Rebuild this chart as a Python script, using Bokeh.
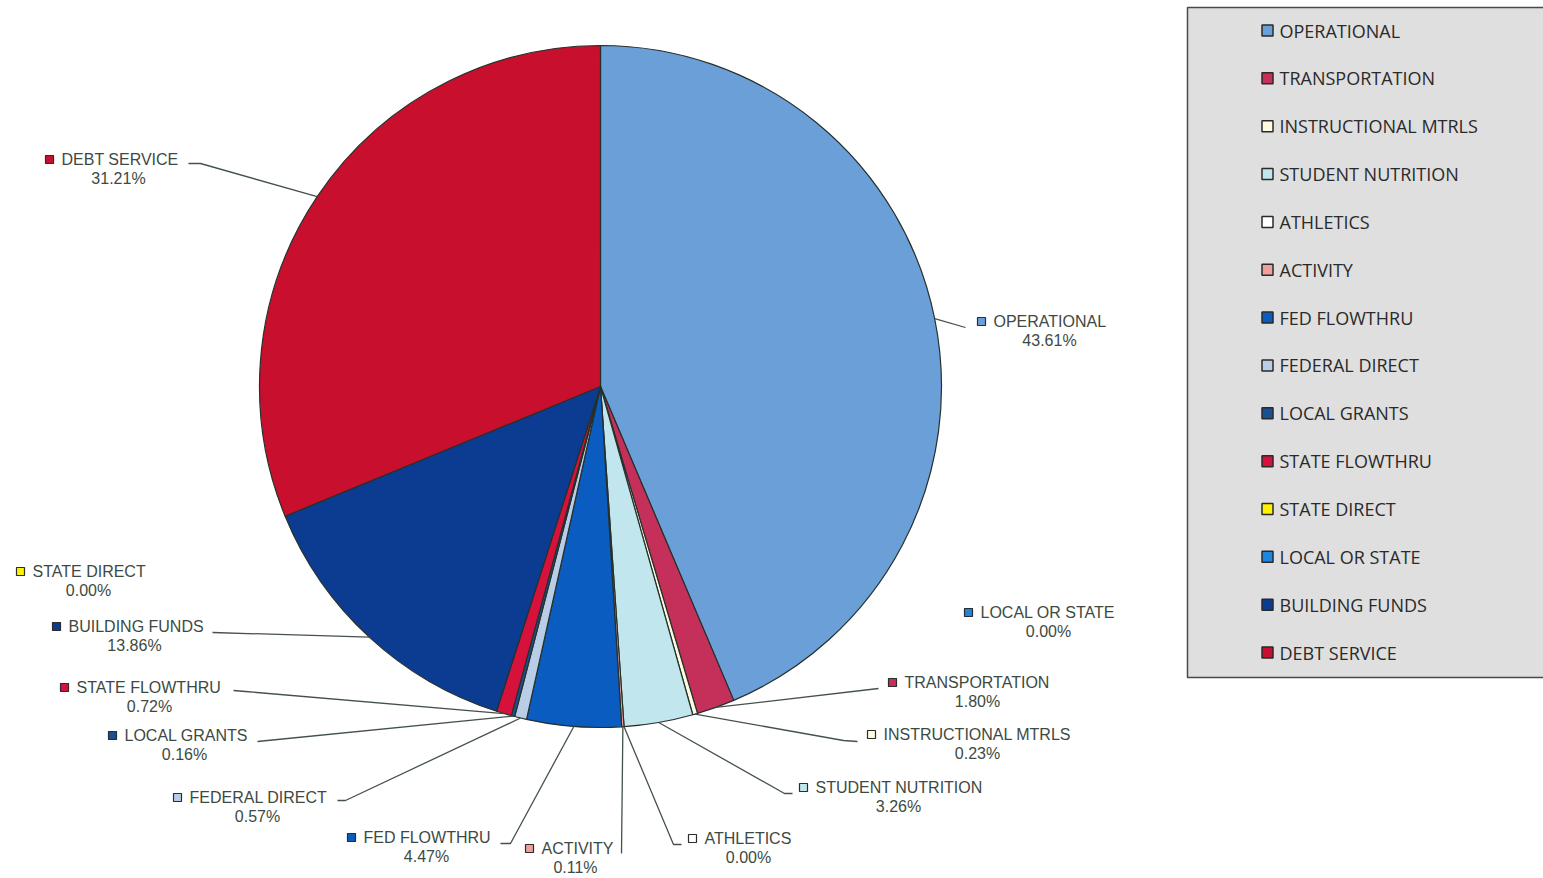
import math
from bokeh.plotting import figure
from bokeh.models import Range1d, ColumnDataSource
from bokeh.embed import file_html
from bokeh.resources import INLINE
from bokeh.core.properties import value

# ---------------- data ----------------
categories = ["OPERATIONAL", "TRANSPORTATION", "INSTRUCTIONAL MTRLS", "STUDENT NUTRITION",
              "ATHLETICS", "ACTIVITY", "FED FLOWTHRU", "FEDERAL DIRECT", "LOCAL GRANTS",
              "STATE FLOWTHRU", "STATE DIRECT", "LOCAL OR STATE", "BUILDING FUNDS", "DEBT SERVICE"]
percents = [43.61, 1.80, 0.23, 3.26, 0.00, 0.11, 4.47, 0.57, 0.16, 0.72, 0.00, 0.00, 13.86, 31.21]
pct_labels = ["43.61%", "1.80%", "0.23%", "3.26%", "0.00%", "0.11%", "4.47%", "0.57%", "0.16%",
              "0.72%", "0.00%", "0.00%", "13.86%", "31.21%"]

# ---------------- styles ----------------
colors = ["#6b9fd8", "#c4305a", "#fffbe0", "#c2e6ee", "#ffffff", "#f0a09c", "#0a5cc0",
          "#b9cde6", "#1b4f93", "#d6113c", "#fff200", "#1e86e0", "#0b3c92", "#c8102e"]

W, H = 1543, 878
CX, CY, R = 600, 386, 341  # pixel layout of the pie

# label layout (pixel coords): name left x, name y, percent centre x
name_x = [993, 904, 883, 815, 704, 541, 363, 189, 124, 76, 32, 980, 68, 61]
name_y = [321, 682, 734, 787, 838, 848, 837, 797, 735, 687, 571, 612, 626, 159]
pct_x = [1049, 977, 977, 898, 748, 575, 426, 257, 184, 149, 88, 1048, 134, 118]
# leader line elbows (pixel coords), empty = no leader
leaders = [
    [(965, 327)],
    [(878, 688)],
    [(843, 740), (857, 741)],
    [(784, 793), (792, 793)],
    [(673, 844), (681, 844)],
    [(621, 853)],
    [(510, 843), (500, 843)],
    [(345, 800), (337, 800)],
    [(267, 740), (257, 741)],
    [(245, 691), (233, 690)],
    [],
    [],
    [(212, 632)],
    [(200, 163), (188, 163)],
]

def Y(py):
    return H - py

p = figure(width=W, height=H, x_range=Range1d(0, W), y_range=Range1d(0, H),
           x_axis_type=None, y_axis_type=None, toolbar_location=None,
           output_backend="svg", min_border=0)
p.grid.visible = False
p.outline_line_color = None
p.background_fill_color = "white"
p.border_fill_color = "white"

# ---------------- pie ----------------
total = sum(percents)
cum = [0.0]
for v in percents:
    cum.append(cum[-1] + v / total)
idx = [i for i, v in enumerate(percents) if v > 0]  # zero slices have no area
start_a = [math.pi / 2 - 2 * math.pi * cum[i + 1] for i in idx]
end_a = [math.pi / 2 - 2 * math.pi * cum[i] for i in idx]
src = ColumnDataSource(dict(start=start_a, end=end_a, color=[colors[i] for i in idx],
                            cat=[categories[i] for i in idx]))
p.wedge(x=CX, y=Y(CY), radius=R, start_angle="start", end_angle="end",
        fill_color="color", line_color="#26302b", line_width=1.2, source=src)

# ---------------- leader lines ----------------
xs, ys = [], []
for i, pts in enumerate(leaders):
    if not pts:
        continue
    mid = (cum[i] + cum[i + 1]) / 2
    phi = 2 * math.pi * mid
    x0 = CX + R * math.sin(phi)
    y0 = CY - R * math.cos(phi)
    lx = [x0] + [q[0] for q in pts]
    ly = [Y(y0)] + [Y(q[1]) for q in pts]
    xs.append(lx)
    ys.append(ly)
p.multi_line(xs, ys, line_color="#44524b", line_width=1.3)

# ---------------- slice labels ----------------
lab_font = value("Liberation Sans")
lab_color = "#3c4a43"
p.rect(x=[nx - 12 for nx in name_x], y=[Y(ny) for ny in name_y], width=8, height=8,
       fill_color=colors, line_color="#2c2c2c", line_width=1.2)
p.text(x=name_x, y=[Y(ny) for ny in name_y], text=categories, text_font=lab_font,
       text_font_size="16px", text_color=lab_color, text_baseline="middle", text_align="left")
p.text(x=pct_x, y=[Y(ny + 19) for ny in name_y], text=pct_labels, text_font=lab_font,
       text_font_size="16px", text_color=lab_color, text_baseline="middle", text_align="center")

# ---------------- legend box ----------------
p.quad(left=1187, right=W + 20, top=Y(7), bottom=Y(677), fill_color="#dfdfdf",
       line_color="#4a4a4a", line_width=1.5)
leg_y = [30 + 47.85 * i for i in range(len(categories))]
p.rect(x=[1267] * len(categories), y=[Y(v) for v in leg_y], width=11, height=11,
       fill_color=colors, line_color="#2a2a2a", line_width=1.5)
p.text(x=[1279] * len(categories), y=[Y(v) for v in leg_y], text=categories,
       text_font=value("Open Sans"), text_font_size="18px", text_color="#2a2a2a",
       text_baseline="middle", text_align="left")

open("out.html", "w").write(file_html(p, INLINE))
